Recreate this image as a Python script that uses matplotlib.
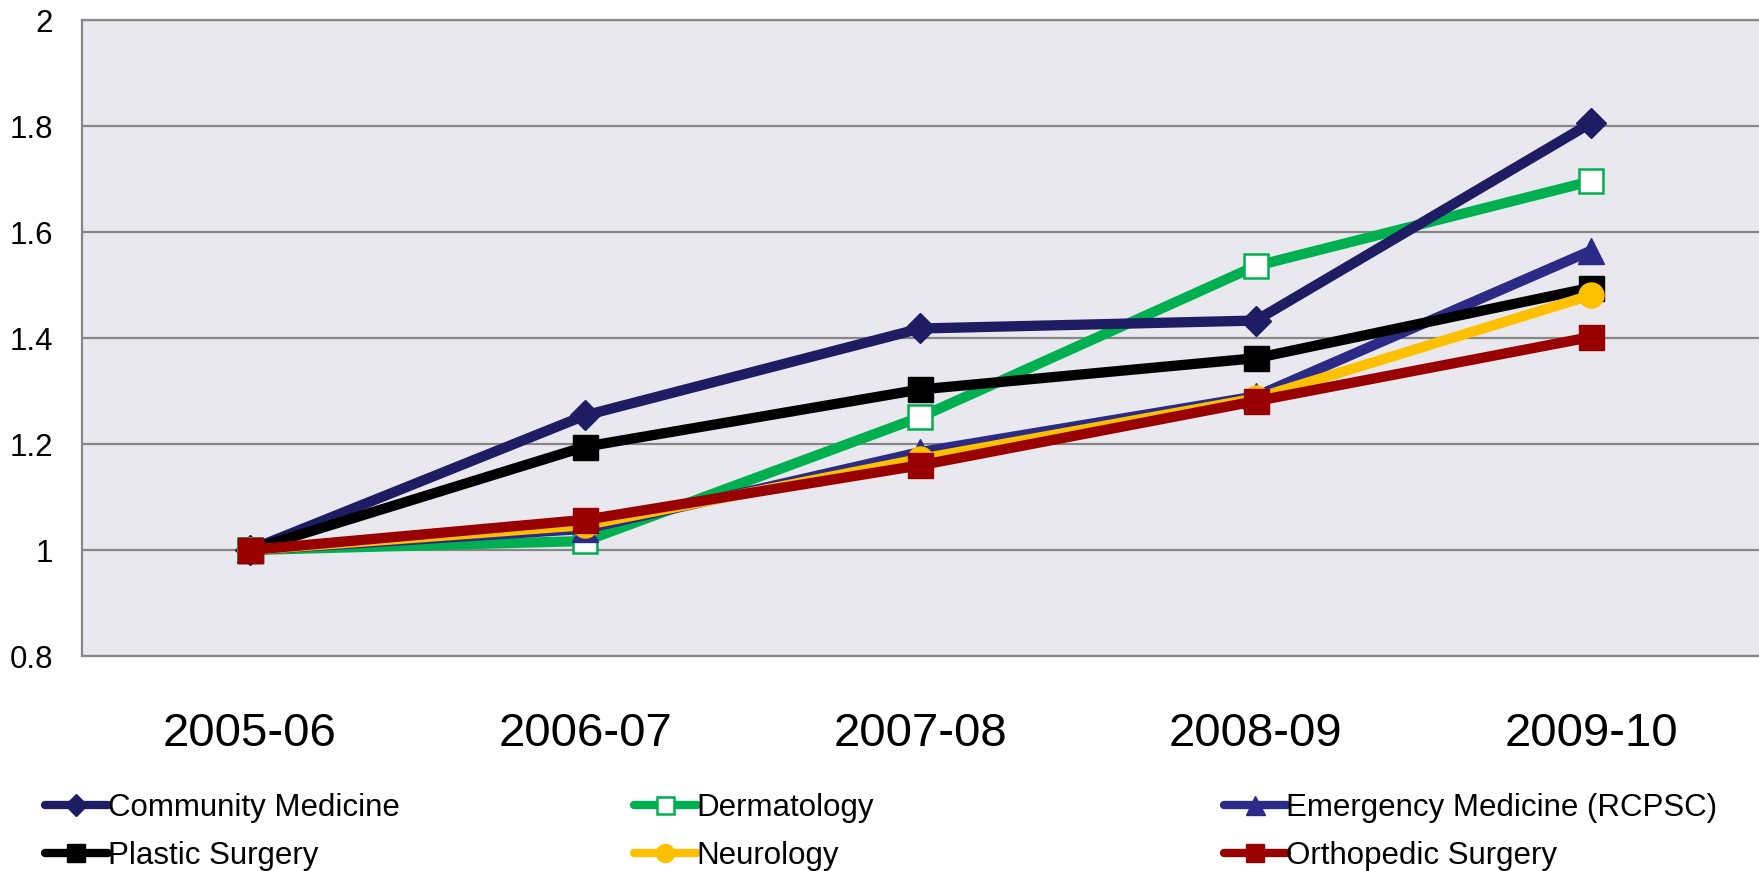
import matplotlib
matplotlib.use("Agg")
import matplotlib.pyplot as plt

plt.rcParams['font.family'] = ['Liberation Sans', 'DejaVu Sans']

# data
years = ["2005-06", "2006-07", "2007-08", "2008-09", "2009-10"]
community = [1.0, 1.254, 1.418, 1.433, 1.806]
dermatology = [1.0, 1.017, 1.251, 1.536, 1.696]
emergency = [1.0, 1.040, 1.185, 1.290, 1.565]
plastic = [1.0, 1.195, 1.303, 1.362, 1.495]
neurology = [1.0, 1.047, 1.172, 1.286, 1.481]
orthopedic = [1.0, 1.057, 1.160, 1.281, 1.402]

yticks = [0.8, 1.0, 1.2, 1.4, 1.6, 1.8, 2.0]
ytick_labels = ["0.8", "1", "1.2", "1.4", "1.6", "1.8", "2"]

fig = plt.figure(figsize=(17.59, 8.71), dpi=100)
ax = fig.add_axes([0.0466, 0.2468, 0.9534, 0.7302])
ax.set_facecolor("#E8E8EE")

x = range(len(years))
lw = 7.4
common = dict(linewidth=lw, solid_capstyle='round')

ax.plot(x, dermatology, color="#00B050", marker='s', markersize=17,
        markerfacecolor='white', markeredgecolor="#00B050", markeredgewidth=1.8,
        label="Dermatology", zorder=3, **common)
ax.plot(x, community, color="#1E1C63", marker='D', markersize=15,
        label="Community Medicine", zorder=4, **common)
ax.plot(x, emergency, color="#2B2A87", marker='^', markersize=19,
        label="Emergency Medicine (RCPSC)", zorder=5, **common)
ax.plot(x, plastic, color="black", marker='s', markersize=18,
        label="Plastic Surgery", zorder=6, **common)
ax.plot(x, neurology, color="#FFC000", marker='o', markersize=18,
        label="Neurology", zorder=7, **common)
ax.plot(x, orthopedic, color="#990000", marker='s', markersize=18,
        label="Orthopedic Surgery", zorder=8, **common)

ax.set_xlim(-0.5, len(years) - 0.5)
ax.set_ylim(0.8, 2.0)
ax.set_xticks(list(x))
ax.set_xticklabels(years, fontsize=34)
ax.set_yticks(yticks)
ax.set_yticklabels(ytick_labels, fontsize=22.5)
ax.tick_params(axis='x', length=0, pad=40)
ax.tick_params(axis='y', length=0, pad=21)

ax.grid(axis='y', color="#868686", linewidth=1.6, zorder=1)
ax.set_axisbelow(True)
for side in ['left', 'bottom', 'top']:
    ax.spines[side].set_color("#868686")
    ax.spines[side].set_linewidth(1.6)
ax.spines['right'].set_visible(False)

handles, labels = ax.get_legend_handles_labels()
hmap = dict(zip(labels, handles))
columns = [["Community Medicine", "Plastic Surgery"],
           ["Dermatology", "Neurology"],
           ["Emergency Medicine (RCPSC)", "Orthopedic Surgery"]]
col_x = [45 / 1759, 634 / 1759, 1224 / 1759]
for cx, names in zip(col_x, columns):
    leg = fig.legend([hmap[n] for n in names], names, loc='upper left',
                     bbox_to_anchor=(cx, 0.090), frameon=False, fontsize=22.5,
                     numpoints=1, handlelength=2.0, handletextpad=0.0,
                     borderpad=0, borderaxespad=0, labelspacing=0.58,
                     markerscale=0.72)
    for ln in leg.get_lines():
        ln.set_linewidth(6)

fig.savefig("out.png", dpi=100)
